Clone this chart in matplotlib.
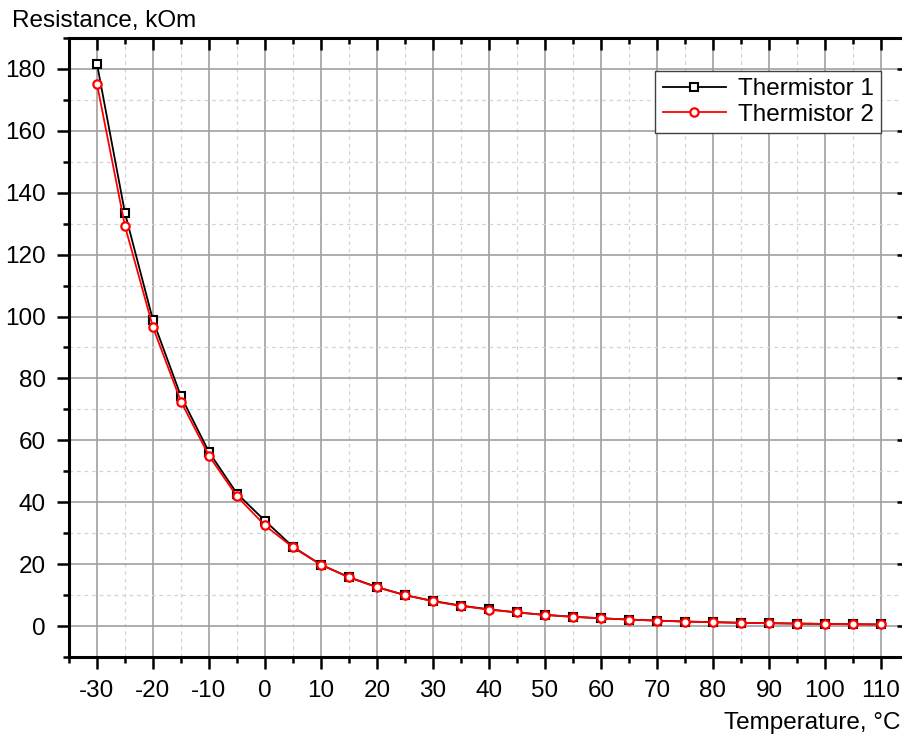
import numpy as np
import matplotlib
matplotlib.use('Agg')
import matplotlib.pyplot as plt
from matplotlib.ticker import MultipleLocator

plt.rcParams['font.family'] = ['Liberation Sans', 'DejaVu Sans']
plt.rcParams['axes.unicode_minus'] = False

# data
temperature = [-30, -25, -20, -15, -10, -5, 0, 5, 10, 15, 20, 25, 30, 35, 40,
               45, 50, 55, 60, 65, 70, 75, 80, 85, 90, 95, 100, 105, 110]
thermistor1 = [181.6, 133.4, 98.8, 74.2, 56.2, 42.8, 34.0, 25.6, 19.8, 15.8, 12.6, 10.0, 8.1, 6.6, 5.4,
               4.4, 3.6, 3.0, 2.5, 2.1, 1.75, 1.45, 1.25, 1.05, 0.92, 0.8, 0.68, 0.59, 0.51]
thermistor2 = [175.1, 129.2, 96.5, 72.5, 55.0, 41.9, 32.5, 25.4, 19.8, 15.7, 12.5, 10.0, 8.0, 6.5, 5.3,
               4.4, 3.6, 3.0, 2.5, 2.1, 1.75, 1.45, 1.25, 1.05, 0.92, 0.8, 0.68, 0.59, 0.51]
xticks = list(range(-30, 111, 10))
yticks = list(range(0, 181, 20))

fig = plt.figure(figsize=(9.02, 7.38), dpi=100)
ax = fig.add_axes([69 / 902, 1 - 657 / 738, 840 / 902, 619 / 738])

ax.plot(temperature, thermistor1, color='black', lw=1.3, marker='s', ms=5.5,
        mfc='white', mec='black', mew=1.5, label='Thermistor 1', zorder=3)
ax.plot(temperature, thermistor2, color='red', lw=1.3, marker='o', ms=6,
        mfc='white', mec='red', mew=1.6, label='Thermistor 2', zorder=4)

ax.set_xlim(-35, 115)
ax.set_ylim(-10, 190)
ax.set_xticks(xticks)
ax.set_yticks(yticks)
ax.xaxis.set_minor_locator(MultipleLocator(5))
ax.yaxis.set_minor_locator(MultipleLocator(10))

ax.grid(which='major', color='#a0a0a0', lw=1.2, ls='-', zorder=0)
ax.grid(which='minor', color='#d4d4d4', lw=0.9, ls=(0, (3, 3)), zorder=0)

for s in ax.spines.values():
    s.set_linewidth(2.2)

ax.tick_params(axis='both', which='major', labelsize=17.5, length=8.5, width=1.8)
ax.tick_params(axis='both', which='minor', length=4.5, width=1.8)
ax.tick_params(axis='x', which='both', direction='out', top=True, pad=8)
ax.tick_params(axis='y', which='both', direction='out', right=True, pad=8)
# ticks on top and right spines point inward
for t in ax.xaxis.get_major_ticks() + ax.xaxis.get_minor_ticks():
    t.tick2line.set_marker(3)
for t in ax.yaxis.get_major_ticks() + ax.yaxis.get_minor_ticks():
    t.tick2line.set_marker(0)

leg = ax.legend(loc='upper right', bbox_to_anchor=(0.967, 0.947), borderaxespad=0,
                fontsize=17.5, fancybox=False, framealpha=1, edgecolor='#404040',
                handlelength=2.6, borderpad=0.3, labelspacing=0.15, handletextpad=0.5)
leg.get_frame().set_linewidth(1.0)

fig.text(12 / 902, 1 - 27 / 738, 'Resistance, kOm', fontsize=17.5, ha='left', va='baseline')
fig.text(901 / 902, 1 - 729 / 738, 'Temperature, °C', fontsize=17.5, ha='right', va='baseline')

fig.savefig('out.png', dpi=100)
